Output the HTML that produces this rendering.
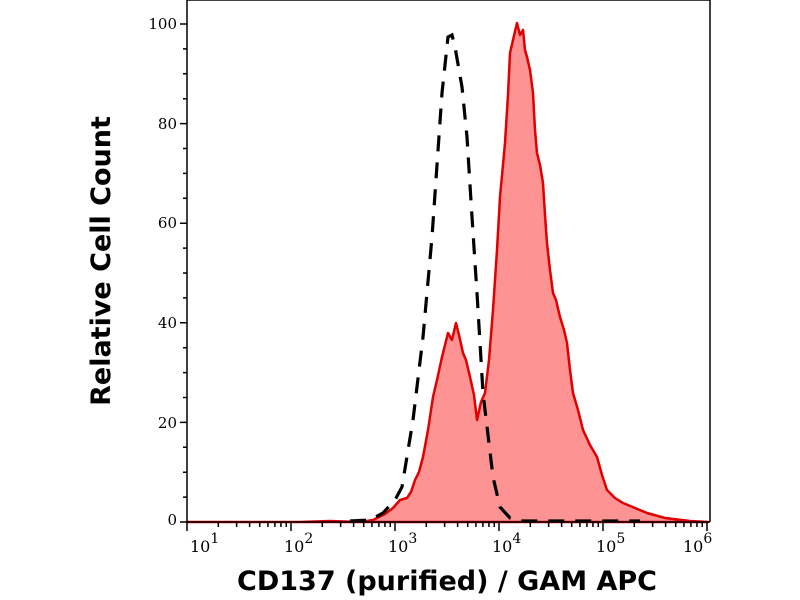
<!DOCTYPE html>
<html><head><meta charset="utf-8"><style>
html,body{margin:0;padding:0;background:#fff;width:800px;height:600px;overflow:hidden}
</style></head><body>
<svg id="s" width="800" height="600" viewBox="0 0 800 600" xmlns="http://www.w3.org/2000/svg">
<rect x="0" y="0" width="800" height="600" fill="#fff"/>
<path d="M187,522 L300,522 L330,521 L360,522 L373,520 L385,514 L393,508 L400,500 L407,498 L411,492 L415,480 L419,472 L423,457 L428,430 L433,397 L437,380 L442,357 L445,345 L448,333 L452,340 L456,323 L459,335 L463,353 L466,360 L470,377 L474,395 L477,420 L481,402 L485,393 L489,360 L493,310 L497,250 L500,197 L505,143 L508,95 L510,53 L513,40 L517,23 L520,35 L523,30 L525,50 L527,57 L530,70 L533,93 L535,130 L537,153 L540,165 L543,183 L545,215 L547,243 L550,270 L553,293 L556,300 L560,317 L564,330 L567,343 L570,370 L573,393 L578,410 L583,430 L590,445 L597,457 L602,475 L607,490 L611,494 L615,498 L623,503 L635,508 L647,513 L665,518 L690,521 L708,522 Z" fill="#fd9393" stroke="#e00000" stroke-width="2.5" stroke-linejoin="round"/>
<path d="M350,521 L370,520 L383,513 L395,500 L402,487 L413,420 L423,337 L432,237 L442,93 L448,37 L452,35 L455,47 L462,87 L467,137 L472,217 L477,293 L483,393 L493,477 L500,507 L510,518 L520,521 L640,521" fill="none" stroke="#000" stroke-width="3.2" stroke-dasharray="16,11"/>
<g id="ax" stroke="#000" stroke-width="1.5" fill="none">
<path d="M187,0 L710,0 L710,522 M187,0 L187,522 L710,522"/>
</g>
<g font-family="'DejaVu Serif','Liberation Serif',serif" font-size="15" fill="#000" text-anchor="end">
<text x="177" y="29">100</text><text x="177" y="129">80</text><text x="177" y="228">60</text>
<text x="177" y="328">40</text><text x="177" y="428">20</text><text x="177" y="525">0</text>
</g>
<g id="xl" font-family="'DejaVu Serif','Liberation Serif',serif" font-size="16" fill="#000"></g>
<text transform="translate(110,261) rotate(-90)" text-anchor="middle" font-family="'DejaVu Sans','Liberation Sans',sans-serif" font-weight="bold" font-size="27" fill="#000">Relative Cell Count</text>
<text x="447" y="590" text-anchor="middle" font-family="'DejaVu Sans','Liberation Sans',sans-serif" font-weight="bold" font-size="27" fill="#000">CD137 (purified) / GAM APC</text>
</svg>
<script>
var ns="http://www.w3.org/2000/svg",ax=document.getElementById('ax'),xl=document.getElementById('xl');
var d="";
for(var v=0;v<=100;v+=5){var y=522-v*4.98;d+="M"+(v%20==0?180:183)+","+y+" L187,"+y+" ";}
var x0=187,dec=104;
for(var e=1;e<=6;e++){var x=x0+(e-1)*dec;d+="M"+x+",522 L"+x+",531 ";
 if(e<6)for(var k=2;k<=9;k++){var xx=x+Math.log10(k)*dec;d+="M"+xx+",522 L"+xx+",527 ";}
 var t=document.createElementNS(ns,'text');t.setAttribute('x',x-(e==6?14:-3)+(e==1?0:-10));t.setAttribute('y',552);
 t.innerHTML='10<tspan dy="-9" font-size="14">'+e+'</tspan>';xl.appendChild(t);}
var p=document.createElementNS(ns,'path');p.setAttribute('d',d);ax.appendChild(p);
</script>
</body></html>
